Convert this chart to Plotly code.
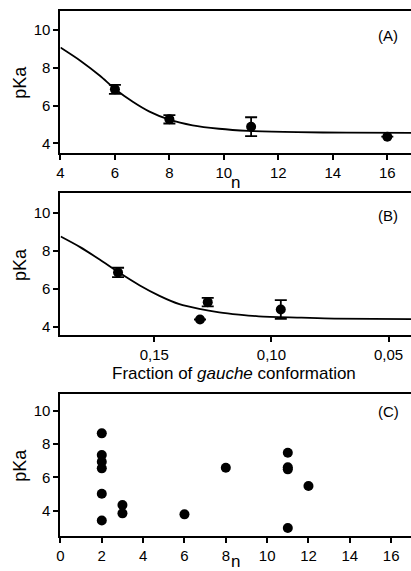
import plotly.graph_objects as go

# Panel A data
a_n = [6, 8, 11, 16]
a_pka = [6.86, 5.27, 4.88, 4.35]
a_err = [0.24, 0.22, 0.5, 0.0]
curve_a_n = [4.0, 4.73, 5.45, 6.0, 6.67, 7.27, 8.0, 8.85, 9.82, 10.9, 12.7, 14.5, 16.9]
curve_a_pka = [9.08, 8.38, 7.58, 6.88, 6.19, 5.68, 5.25, 4.95, 4.77, 4.66, 4.59, 4.56, 4.55]

# Panel B data
b_frac = [0.1655, 0.1272, 0.096, 0.1305]
b_pka = [6.86, 5.29, 4.9, 4.37]
b_err = [0.25, 0.22, 0.5, 0.0]
curve_b_frac = [0.190, 0.1817, 0.1732, 0.1654, 0.1562, 0.1478, 0.1393, 0.1308, 0.1223, 0.1139, 0.1054, 0.0872, 0.0731, 0.0404]
curve_b_pka = [8.76, 8.20, 7.53, 6.88, 6.17, 5.62, 5.18, 4.93, 4.75, 4.63, 4.54, 4.47, 4.42, 4.39]

# Panel C data
c_n = [2, 2, 2, 2, 2, 2, 3, 3, 6, 8, 11, 11, 11, 11, 12]
c_pka = [8.64, 7.34, 6.94, 6.54, 5.02, 3.41, 4.34, 3.84, 3.78, 6.58, 7.48, 6.6, 6.48, 2.96, 5.48]

a_xticks = [4, 6, 8, 10, 12, 14, 16]
b_xticks = [0.15, 0.10, 0.05]
b_xticktext = ["0,15", "0,10", "0,05"]
c_xticks = [0, 2, 4, 6, 8, 10, 12, 14, 16]
y_ticks = [4, 6, 8, 10]

W, H = 411, 571
FONT = "Liberation Sans, Arial, sans-serif"

def fy(py):
    return 1 - py / H

fig = go.Figure()

fig.add_trace(go.Scatter(x=curve_a_n, y=curve_a_pka, mode="lines",
                         line=dict(color="black", width=1.8, shape="spline", smoothing=0.8),
                         xaxis="x", yaxis="y", showlegend=False, hoverinfo="skip"))
fig.add_trace(go.Scatter(x=a_n, y=a_pka, mode="markers", marker=dict(color="black", size=10),
                         error_y=dict(type="data", array=a_err, color="black", thickness=1.8, width=6),
                         xaxis="x", yaxis="y", showlegend=False))

fig.add_trace(go.Scatter(x=curve_b_frac, y=curve_b_pka, mode="lines",
                         line=dict(color="black", width=1.8, shape="spline", smoothing=0.8),
                         xaxis="x2", yaxis="y2", showlegend=False, hoverinfo="skip"))
fig.add_trace(go.Scatter(x=b_frac, y=b_pka, mode="markers", marker=dict(color="black", size=10),
                         error_y=dict(type="data", array=b_err, color="black", thickness=1.8, width=6),
                         xaxis="x2", yaxis="y2", showlegend=False))

fig.add_trace(go.Scatter(x=c_n, y=c_pka, mode="markers", marker=dict(color="black", size=10),
                         xaxis="x3", yaxis="y3", showlegend=False))

xdom = [57 / W, 1.0]
common_x = dict(showline=True, linewidth=2, linecolor="black", mirror=True, ticks="outside", ticklen=5,
                tickwidth=1.5, tickcolor="black", showgrid=False, zeroline=False,
                tickfont=dict(family=FONT, size=15, color="black"), domain=xdom)
common_y = dict(showline=True, linewidth=2, linecolor="black", mirror=False, ticks="outside", ticklen=5,
                tickwidth=1.5, tickcolor="black", showgrid=False, zeroline=False,
                tickfont=dict(family=FONT, size=15, color="black"), tickvals=y_ticks)

fig.update_layout(
    width=W, height=H, margin=dict(l=0, r=0, t=0, b=0),
    paper_bgcolor="white", plot_bgcolor="white",
    font=dict(family=FONT, color="black"),
    xaxis=dict(common_x, range=[4, 16.87], tickvals=a_xticks, anchor="y"),
    yaxis=dict(common_y, range=[3.5, 11], domain=[fy(152.7), fy(11.3)], anchor="x"),
    xaxis2=dict(common_x, range=[0.1901, 0.0404], tickvals=b_xticks, ticktext=b_xticktext, anchor="y2"),
    yaxis2=dict(common_y, range=[3.55, 11.05], domain=[fy(335), fy(193.3)], anchor="x2"),
    xaxis3=dict(common_x, range=[0, 16.96], tickvals=c_xticks, anchor="y3"),
    yaxis3=dict(common_y, range=[2.5, 11], domain=[fy(535.7), fy(394)], anchor="x3"),
)

ann = []
def text(x, y, s, size=16, angle=0, yanchor="middle"):
    ann.append(dict(x=x / W, y=fy(y), xref="paper", yref="paper", text=s, showarrow=False,
                    font=dict(family=FONT, size=size, color="black"), textangle=angle,
                    xanchor="center", yanchor=yanchor))

text(388, 35, "(A)", 15)
text(388, 216, "(B)", 15)
text(388, 411, "(C)", 15)
for yc in [(11.3 + 152.7) / 2, (193.3 + 335) / 2, (394 + 535.7) / 2]:
    text(16, yc, "pKa", 18, -90)
text(234, 182, "n", 17)
text(232, 373, "Fraction of <i>gauche</i> conformation", 17)
text(234, 573, "n", 17, yanchor="bottom")
fig.update_layout(annotations=ann)

fig.write_html("out.html", config={"displayModeBar": False},
               post_script="document.body.style.margin='0';document.body.style.overflow='hidden';")
